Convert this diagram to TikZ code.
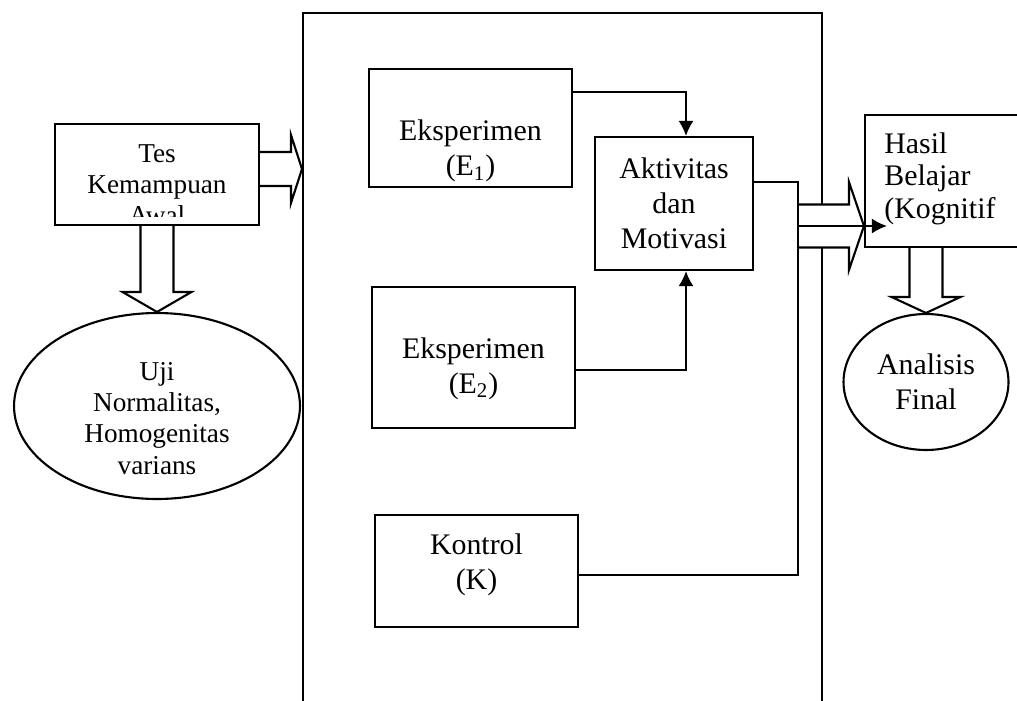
\documentclass[tikz,border=0pt]{standalone}
\usepackage{fontspec}
\setmainfont{Liberation Serif}
\usepackage{tikz}
\usetikzlibrary{shapes.geometric, arrows.meta, calc, positioning}

% hollow block arrow: start, tip, half stem, half head, head length
\newcommand{\hollowarrow}[5]{%
  \coordinate (headbase) at ($(#2)!#5!(#1)$);
  \path[hollow] ($(#1)!#3!90:(#2)$) -- ($(headbase)!#3!-90:(#1)$) -- ($(headbase)!#4!-90:(#1)$) -- (#2) -- ($(headbase)!#4!90:(#1)$) -- ($(headbase)!#3!90:(#1)$) -- ($(#1)!#3!-90:(#2)$);
}

\begin{document}
\begin{tikzpicture}[
      x=0.02cm, y=-0.02cm,
      box/.style={draw, line width=1.2pt, fill=white, inner sep=0pt},
      oval/.style={draw, ellipse, line width=1.2pt, fill=white, inner sep=0pt},
      big/.style={font=\fontsize{17}{20}\selectfont, align=center, inner sep=0pt},
      small/.style={font=\fontsize{15.5}{17.8}\selectfont, align=center, inner sep=0pt},
      wire/.style={line width=1.2pt},
      flow/.style={line width=1.2pt, -{Latex[length=3mm, width=3mm]}},
      hollow/.style={draw, fill=white, line width=1.2pt, line join=miter}
    ]

    \useasboundingbox (0,0) rectangle (1017,700);
    \clip (0,0) rectangle (1017,700);

    % Frame of the treatment
    \node[box, minimum width=10.38cm, minimum height=14.14cm] (frame) at (562.5,366.5) {};

    % Left side
    \node[box, minimum width=4.08cm, minimum height=2.02cm,
      path picture={
        \clip ([yshift=0.16cm]path picture bounding box.south west) rectangle (path picture bounding box.north east);
        \node[small, anchor=north] (testxt) at ([yshift=-0.18cm]path picture bounding box.north) {Tes\\Kemampuan\\Awal};
      }] (tes) at (157,174.5) {};

    \node[oval, minimum width=5.72cm, minimum height=3.72cm] (uji) at (157,406) {};
    \node[small, anchor=north] (ujitxt) at (157,362) {Uji\\Normalitas,\\Homogenitas\\varians};

    % Groups
    \node[box, minimum width=4.06cm, minimum height=2.36cm] (e1) at (470.5,128) {};
    \node[big] (e1txt) at ([yshift=-0.46cm]e1.center) {Eksperimen\\(E\textsubscript{1})};

    \node[box, minimum width=4.06cm, minimum height=2.82cm] (e2) at (473.5,357.5) {};
    \node[big] (e2txt) at ([yshift=-0.22cm]e2.center) {Eksperimen\\(E\textsubscript{2})};

    \node[box, minimum width=4.06cm, minimum height=2.24cm] (kontrol) at (476.5,571) {};
    \node[big] (kontroltxt) at ([yshift=0.13cm]kontrol.center) {Kontrol\\(K)};

    \node[box, big, minimum width=3.16cm, minimum height=2.66cm] (akt) at (674,203.5) {Aktivitas\\dan\\Motivasi};

    % Right side
    \node[box, minimum width=3.5cm, minimum height=2.64cm] (hasil) at (952.5,181) {};
    \node[big, align=left, anchor=north west, font=\fontsize{17}{18.7}\selectfont] (hasiltxt) at (884,132) {Hasil\\Belajar\\(Kognitif};

    \node[oval, big, minimum width=3.3cm, minimum height=2.72cm] (analisis) at (926,382) {Analisis\\Final};

    % Block arrows
    \coordinate (tesout) at ([yshift=0.11cm]tes.east);
    \coordinate (framein) at (tesout -| frame.west);
    \coordinate (hasilin) at ([yshift=-0.9cm]hasil.west);
    \coordinate (bend) at (hasilin -| 798,0);

    \hollowarrow{tesout}{framein}{0.34cm}{0.68cm}{0.22cm}
    \hollowarrow{tes.south}{uji.north}{0.33cm}{0.69cm}{0.4cm}
    \hollowarrow{bend}{hasilin}{0.43cm}{0.88cm}{0.3cm}
    \hollowarrow{analisis.north |- hasil.south}{analisis.north}{0.33cm}{0.69cm}{0.32cm}

    % Arrows
    \draw[flow] ([yshift=0.72cm]e1.east) -| ([xshift=0.24cm]akt.north);
    \draw[flow] ([yshift=-0.25cm]e2.east) -| ([xshift=0.24cm]akt.south);
    \draw[wire] ([yshift=0.43cm]akt.east) -| (bend) |- ([yshift=-0.08cm]kontrol.east);
    \draw[flow] (bend) -- ([xshift=0.46cm]hasilin);

  \end{tikzpicture}
\end{document}
